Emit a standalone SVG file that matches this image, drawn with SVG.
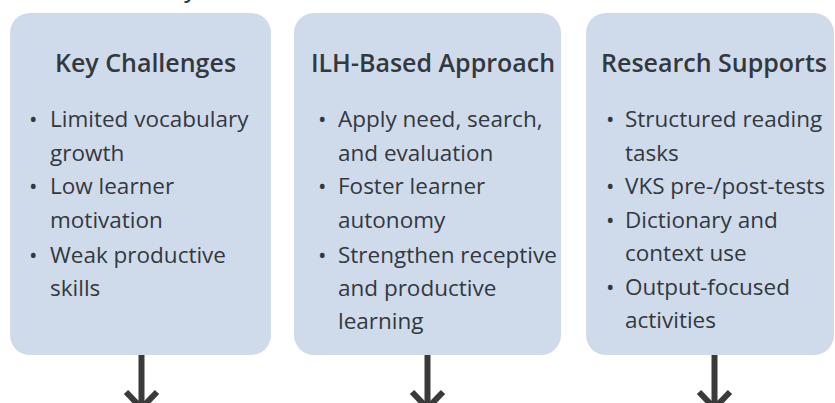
<svg xmlns="http://www.w3.org/2000/svg" width="835" height="403" viewBox="0 0 835 403">
  <defs>
    <style>
      .card { fill: #cfdbeb; }
      .title { font-family: "Open Sans", "Noto Sans", sans-serif; font-weight: 600; font-size: 25px; fill: #33383e; text-anchor: middle; }
      .item { font-family: "Open Sans", "Noto Sans", sans-serif; font-size: 22.5px; fill: #33383e; }
      .wire { stroke: #3a3a3a; stroke-width: 6; fill: none; }
      .head { stroke: #3a3a3a; stroke-width: 6; fill: none; stroke-linecap: butt; stroke-linejoin: miter; }
    </style>
  </defs>
  <rect width="835" height="403" fill="#ffffff"/>

  <!-- tail of a heading above the visible area -->
  <text x="184" y="-2" class="title" style="text-anchor:start;font-size:22px">y</text>

  <g id="key-challenges">
    <rect class="card" x="10" y="13" width="261" height="342" rx="20" ry="20"/>
    <text class="title" x="145.5" y="72">Key Challenges</text>
    <text class="item">
      <tspan x="29" y="127">•</tspan><tspan x="50" y="127">Limited vocabulary</tspan>
      <tspan x="50" y="160.5">growth</tspan>
      <tspan x="29" y="194">•</tspan><tspan x="50" y="194">Low learner</tspan>
      <tspan x="50" y="228">motivation</tspan>
      <tspan x="29" y="263">•</tspan><tspan x="50" y="263">Weak productive</tspan>
      <tspan x="50" y="296">skills</tspan>
    </text>
  </g>

  <g id="ilh-approach">
    <rect class="card" x="294" y="13" width="267" height="342" rx="20" ry="20"/>
    <text class="title" x="433" y="72">ILH-Based Approach</text>
    <text class="item">
      <tspan x="318" y="127">•</tspan><tspan x="338" y="127">Apply need, search,</tspan>
      <tspan x="338" y="160.5">and evaluation</tspan>
      <tspan x="318" y="194">•</tspan><tspan x="338" y="194">Foster learner</tspan>
      <tspan x="338" y="228">autonomy</tspan>
      <tspan x="318" y="263">•</tspan><tspan x="338" y="263">Strengthen receptive</tspan>
      <tspan x="338" y="296">and productive</tspan>
      <tspan x="338" y="329">learning</tspan>
    </text>
  </g>

  <g id="research-supports">
    <rect class="card" x="586" y="13" width="248" height="342" rx="20" ry="20"/>
    <text class="title" x="714" y="72">Research Supports</text>
    <text class="item">
      <tspan x="606" y="127">•</tspan><tspan x="625" y="127">Structured reading</tspan>
      <tspan x="625" y="160.5">tasks</tspan>
      <tspan x="606" y="194">•</tspan><tspan x="625" y="194">VKS pre-/post-tests</tspan>
      <tspan x="606" y="227.5">•</tspan><tspan x="625" y="227.5">Dictionary and</tspan>
      <tspan x="625" y="261">context use</tspan>
      <tspan x="606" y="294.5">•</tspan><tspan x="625" y="294.5">Output-focused</tspan>
      <tspan x="625" y="328">activities</tspan>
    </text>
  </g>

  <g id="connectors">
    <line class="wire" x1="141.5" y1="355" x2="141.5" y2="410"/>
    <polyline class="head" points="126,392 141.5,408 157,392"/>
    <line class="wire" x1="427.5" y1="355" x2="427.5" y2="410"/>
    <polyline class="head" points="412,392 427.5,408 443,392"/>
    <line class="wire" x1="714.5" y1="355" x2="714.5" y2="410"/>
    <polyline class="head" points="699,392 714.5,408 730,392"/>
  </g>
</svg>
